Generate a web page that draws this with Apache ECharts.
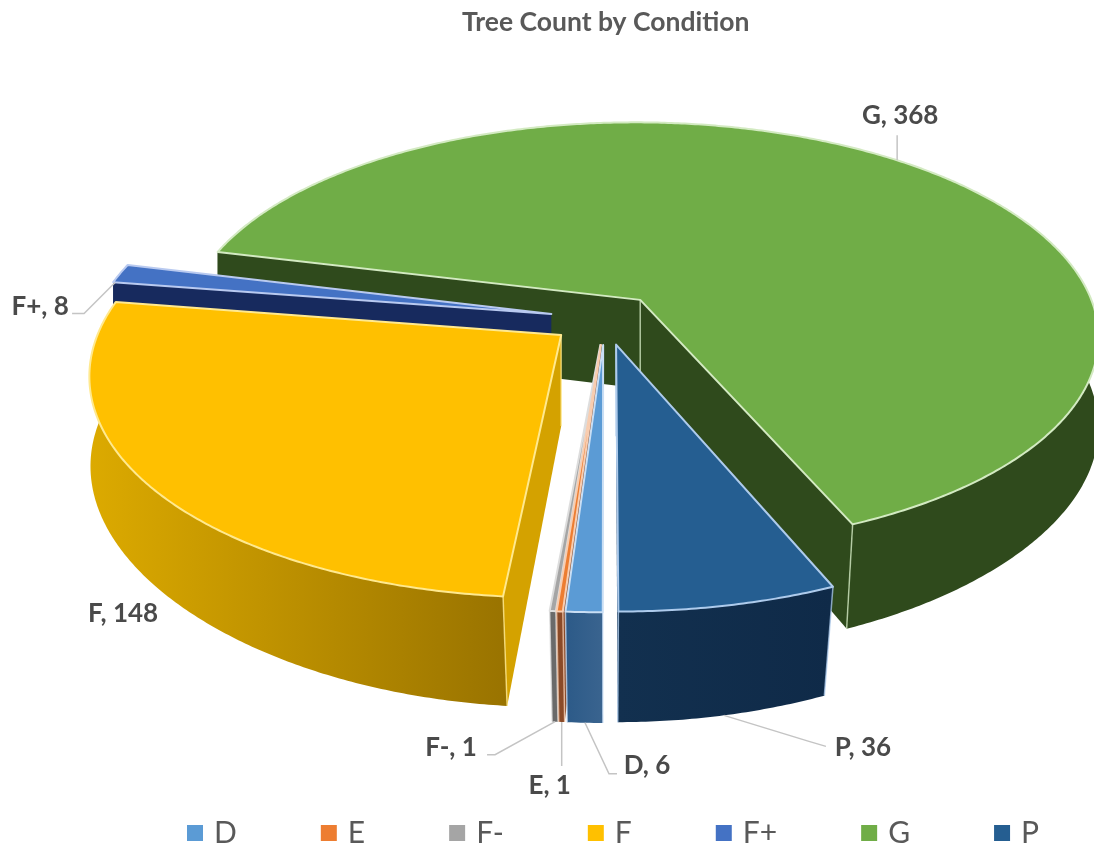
<!DOCTYPE html>
<html>
<head>
<meta charset="utf-8">
<style>
  html, body { margin: 0; padding: 0; background: #fff; }
  #main { width: 1094px; height: 848px; }
</style>
<script src="https://cdn.jsdelivr.net/npm/echarts@6/dist/echarts.min.js"></script>
</head>
<body>
<div id="main"></div>
<script>
const categories = ['D', 'E', 'F-', 'F', 'F+', 'G', 'P']
const treeCounts = [6, 1, 1, 148, 8, 368, 36]

const topColors = ['#5b9bd5', '#ed7d31', '#a5a5a5', '#ffc000', '#4472c4', '#70ad47', '#255e91']
const edgeColors = ['#c9def4', '#f8cdb0', '#dddddd', '#ffe98f', '#b9caf0', '#d3eac2', '#aecbec']
const wallLeft = ['#2c5a88', '#8a4a28', '#6a6a6a', '#dcaa00', '#172a5e', '#2f4a1c', '#12304f']
const wallRight = ['#3a648f', '#8a4a28', '#6a6a6a', '#997300', '#172a5e', '#2f4a1c', '#0f2a48']
const cutWalls = ['#2c5a88', '#8a4a28', '#6a6a6a', '#d4a200', '#172a5e', '#2f4a1c', '#12304f']

// painter's order, back slices first
const drawOrder = ['G', 'F+', 'F', 'F-', 'E', 'D', 'P']

// pie camera
const centerX = 605
const centerY = 319
const radiusX = 458
const radiusY = 213
const camera = 6
const explode = 0.12
const wallHeight = 90
const frontShrink = 0.035
const startAngle = 180

const labelFont = 'bold 26px Lato, "Open Sans", sans-serif'
// offsets from the slice's rim point, leader line first then the text centre
const labelSpots = {
  'D': { leader: [[0, 0], [24, 51], [32, 51]], text: [62, 43] },
  'E': { leader: [[0, 0], [0, 44]], text: [-12, 64] },
  'F-': { leader: [[0, 0], [-60, 33], [-68, 33]], text: [-104, 26] },
  'F': { leader: null, text: [-33, 27] },
  'F+': { leader: [[-5, 9], [-36, 40], [-48, 40]], text: [-80, 33], top: true },
  'G': { leader: [[0, 0], [0, -25]], text: [3, -45], top: true },
  'P': { leader: [[0, 0], [85, 26], [102, 31]], text: [139, 32] }
}

const total = treeCounts.reduce((a, b) => a + b, 0)

function toRad (deg) {
  return deg * Math.PI / 180
}

// flat disc position to screen, low = true gives the bottom of the wall
function project (x, z, low) {
  const s = camera / (camera + z)
  let px = x * s * radiusX
  let py = centerY - z * s * radiusY
  if (low) {
    const front = Math.min(z, 0)
    px = px * (1 - frontShrink * front * front)
    py = py + wallHeight * s
  }
  return [centerX + px, py]
}

function sliceInfo (index) {
  let from = startAngle
  for (let i = 0; i < index; i++) {
    from += treeCounts[i] / total * 360
  }
  const to = from + treeCounts[index] / total * 360
  const mid = (from + to) / 2
  return {
    from,
    to,
    mid,
    apexX: explode * Math.sin(toRad(mid)),
    apexZ: explode * Math.cos(toRad(mid))
  }
}

function rimPoint (info, deg, low) {
  return project(info.apexX + Math.sin(toRad(deg)), info.apexZ + Math.cos(toRad(deg)), low)
}

// screen winding of a quad, tells which way a cut wall faces
function winding (points) {
  let area = 0
  points.forEach((p, i) => {
    const q = points[(i + 1) % points.length]
    area += p[0] * q[1] - q[0] * p[1]
  })
  return area
}

function makeSlice (index) {
  const info = sliceInfo(index)
  const name = categories[index]
  const topRim = []
  const lowRim = []
  const steps = Math.max(2, Math.ceil((info.to - info.from) * 2))
  for (let i = 0; i <= steps; i++) {
    const deg = info.from + (info.to - info.from) * i / steps
    topRim.push(rimPoint(info, deg, false))
    lowRim.push(rimPoint(info, deg, true))
  }
  const apexTop = project(info.apexX, info.apexZ, false)
  const apexLow = project(info.apexX, info.apexZ, true)
  const edge = edgeColors[index]
  const children = []

  // outer wall
  children.push({
    type: 'polygon',
    shape: { points: topRim.concat(lowRim.slice().reverse()) },
    style: {
      fill: new echarts.graphic.LinearGradient(0, 0, 1, 0, [
        { offset: 0, color: wallLeft[index] },
        { offset: 1, color: wallRight[index] }
      ])
    },
    silent: true
  })

  const vertical = (a, b) => {
    children.push({
      type: 'polyline',
      shape: { points: [a, b] },
      style: { stroke: edge, lineWidth: 1.5, fill: 'none', opacity: 0.75 },
      silent: true
    })
  }

  // cut walls, only the ones turned to the viewer
  const fromWall = [apexTop, topRim[0], lowRim[0], apexLow]
  const toWall = [apexTop, topRim[steps], lowRim[steps], apexLow]
  let anyWall = false
  if (winding(fromWall) < 0) {
    children.push({ type: 'polygon', shape: { points: fromWall }, style: { fill: cutWalls[index] }, silent: true })
    anyWall = true
  }
  if (winding(toWall) > 0) {
    children.push({ type: 'polygon', shape: { points: toWall }, style: { fill: cutWalls[index] }, silent: true })
    anyWall = true
  }
  if (anyWall && treeCounts[index] > 20) {
    vertical(apexTop, apexLow)
  }
  // rim corners on the side that faces the viewer
  if (Math.cos(toRad(info.from)) < 0.1) {
    vertical(topRim[0], lowRim[0])
  }
  if (Math.cos(toRad(info.to)) < 0.1) {
    vertical(topRim[steps], lowRim[steps])
  }

  // top face
  children.push({
    type: 'polygon',
    shape: { points: [apexTop].concat(topRim) },
    style: { fill: topColors[index], stroke: edge, lineWidth: 2, lineJoin: 'round' },
    silent: true
  })

  // label
  const spot = labelSpots[name]
  const anchor = rimPoint(info, info.mid, !spot.top)
  if (spot.leader) {
    children.push({
      type: 'polyline',
      shape: { points: spot.leader.map(p => [anchor[0] + p[0], anchor[1] + p[1]]) },
      style: { stroke: '#c4c4c4', lineWidth: 1.5, fill: 'none' },
      silent: true
    })
  }
  children.push({
    type: 'text',
    style: {
      text: name + ', ' + treeCounts[index],
      x: anchor[0] + spot.text[0],
      y: anchor[1] + spot.text[1],
      align: 'center',
      verticalAlign: 'middle',
      font: labelFont,
      fill: '#4a4a4a'
    },
    silent: true
  })
  return { type: 'group', children }
}

const chart = echarts.init(document.getElementById('main'), null, { renderer: 'canvas' })

chart.setOption({
  animation: false,
  backgroundColor: '#ffffff',
  title: {
    text: 'Tree Count by Condition',
    left: 457,
    top: 4,
    textStyle: {
      fontFamily: 'Lato, "Open Sans", sans-serif',
      fontWeight: 'bold',
      fontSize: 26.5,
      color: '#595959'
    }
  },
  legend: {
    data: categories,
    left: 182,
    top: 813,
    icon: 'rect',
    itemWidth: 16,
    itemHeight: 16,
    itemGap: 84,
    textStyle: {
      fontFamily: 'Lato, "Open Sans", sans-serif',
      fontSize: 30,
      padding: [0, 0, 0, 6],
      color: '#595959'
    }
  },
  series: categories.map((name, index) => ({
    type: 'custom',
    name: name,
    coordinateSystem: 'none',
    z: 2 + drawOrder.indexOf(name),
    itemStyle: { color: topColors[index] },
    data: [treeCounts[index]],
    renderItem: () => makeSlice(index)
  }))
})
</script>
</body>
</html>
